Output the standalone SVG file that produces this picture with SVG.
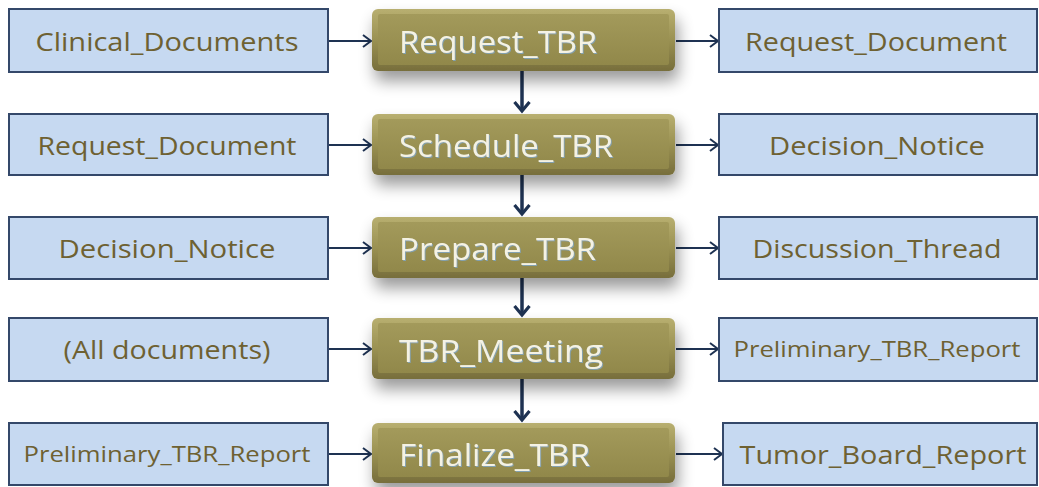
<svg xmlns="http://www.w3.org/2000/svg" width="1039" height="487" viewBox="0 0 1039 487">
  <defs>
    <style>
      .doc rect { fill: #C6D9F1; stroke: #34486A; stroke-width: 2; }
      .doc text { font-family: "Open Sans", "Liberation Sans", sans-serif; font-size: 26px; fill: #6E6132; text-anchor: middle; }
      .doc text.small { font-size: 21px; }
      .step text { font-family: "Open Sans", "Liberation Sans", sans-serif; font-size: 31px; fill: #F4F2E4; }
      .step .outer { fill: url(#stepEdge); filter: url(#shadow); }
      .step .inner { fill: url(#stepFace); }
      .flow { stroke: #1E3252; stroke-width: 2; fill: none; }
      .down { stroke: #1E3252; stroke-width: 3.5; fill: none; }
    </style>
    <linearGradient id="stepEdge" x1="0" y1="0" x2="0" y2="1">
      <stop offset="0" stop-color="#B8AF70"/>
      <stop offset="0.5" stop-color="#9A9152"/>
      <stop offset="1" stop-color="#776E3C"/>
    </linearGradient>
    <linearGradient id="stepFace" x1="0" y1="0" x2="0" y2="1">
      <stop offset="0" stop-color="#A39A5B"/>
      <stop offset="1" stop-color="#91884A"/>
    </linearGradient>
    <filter id="shadow" x="-10%" y="-25%" width="125%" height="190%">
      <feGaussianBlur in="SourceAlpha" stdDeviation="8"/>
      <feOffset dx="3" dy="10" result="blur"/>
      <feComponentTransfer><feFuncA type="linear" slope="0.4"/></feComponentTransfer>
      <feMerge><feMergeNode/><feMergeNode in="SourceGraphic"/></feMerge>
    </filter>
    <filter id="glow" x="-5%" y="-20%" width="110%" height="140%">
      <feOffset in="SourceAlpha" dx="0.8" dy="0.8" result="o"/>
      <feFlood flood-color="#7FA6C8" flood-opacity="0.8"/>
      <feComposite in2="o" operator="in"/>
      <feMerge><feMergeNode/><feMergeNode in="SourceGraphic"/></feMerge>
    </filter>
    <marker id="chevron" markerUnits="userSpaceOnUse" markerWidth="12" markerHeight="16" refX="9" refY="7" orient="auto">
      <path d="M1,1 L9,7 L1,13" fill="none" stroke="#1E3252" stroke-width="2"/>
    </marker>
    <marker id="chevronBold" markerUnits="userSpaceOnUse" markerWidth="14" markerHeight="20" refX="10" refY="9" orient="auto">
      <path d="M1,1.5 L10,9 L1,16.5" fill="none" stroke="#1E3252" stroke-width="3.2"/>
    </marker>
  </defs>

  <!-- connectors -->
  <g id="connectors">
    <line class="flow" x1="329" y1="41" x2="371" y2="41" marker-end="url(#chevron)"/>
    <line class="flow" x1="676" y1="41" x2="718" y2="41" marker-end="url(#chevron)"/>
    <line class="flow" x1="329" y1="145" x2="371" y2="145" marker-end="url(#chevron)"/>
    <line class="flow" x1="676" y1="145" x2="718" y2="145" marker-end="url(#chevron)"/>
    <line class="flow" x1="329" y1="248" x2="371" y2="248" marker-end="url(#chevron)"/>
    <line class="flow" x1="676" y1="248" x2="718" y2="248" marker-end="url(#chevron)"/>
    <line class="flow" x1="329" y1="349" x2="371" y2="349" marker-end="url(#chevron)"/>
    <line class="flow" x1="676" y1="349" x2="718" y2="349" marker-end="url(#chevron)"/>
    <line class="flow" x1="329" y1="454" x2="371" y2="454" marker-end="url(#chevron)"/>
    <line class="flow" x1="676" y1="454" x2="722" y2="454" marker-end="url(#chevron)"/>
    <line class="down" x1="522" y1="71" x2="522" y2="111" marker-end="url(#chevronBold)"/>
    <line class="down" x1="522" y1="175" x2="522" y2="214" marker-end="url(#chevronBold)"/>
    <line class="down" x1="522" y1="278" x2="522" y2="315" marker-end="url(#chevronBold)"/>
    <line class="down" x1="522" y1="379" x2="522" y2="420" marker-end="url(#chevronBold)"/>
  </g>

  <!-- input documents -->
  <g id="in-clinical" class="doc">
    <rect x="9" y="9" width="319" height="63"/>
    <text x="167" y="51" textLength="263" lengthAdjust="spacingAndGlyphs">Clinical_Documents</text>
  </g>
  <g id="in-request" class="doc">
    <rect x="9" y="114" width="319" height="61"/>
    <text x="167" y="155" textLength="259" lengthAdjust="spacingAndGlyphs">Request_Document</text>
  </g>
  <g id="in-decision" class="doc">
    <rect x="9" y="217" width="319" height="62"/>
    <text x="167" y="258" textLength="217" lengthAdjust="spacingAndGlyphs">Decision_Notice</text>
  </g>
  <g id="in-all" class="doc">
    <rect x="9" y="318" width="319" height="63"/>
    <text x="167" y="359" textLength="207" lengthAdjust="spacingAndGlyphs">(All documents)</text>
  </g>
  <g id="in-preliminary" class="doc">
    <rect x="9" y="423" width="319" height="62"/>
    <text class="small" x="167" y="462" textLength="287" lengthAdjust="spacingAndGlyphs">Preliminary_TBR_Report</text>
  </g>

  <!-- process steps -->
  <g id="step-request" class="step">
    <rect class="outer" x="372" y="9" width="303" height="62" rx="6"/>
    <rect class="inner" x="378" y="14" width="291" height="51" rx="2"/>
    <text x="399" y="53" textLength="198" lengthAdjust="spacingAndGlyphs" filter="url(#glow)">Request_TBR</text>
  </g>
  <g id="step-schedule" class="step">
    <rect class="outer" x="372" y="114" width="303" height="61" rx="6"/>
    <rect class="inner" x="378" y="119" width="291" height="50" rx="2"/>
    <text x="399" y="157" textLength="214" lengthAdjust="spacingAndGlyphs" filter="url(#glow)">Schedule_TBR</text>
  </g>
  <g id="step-prepare" class="step">
    <rect class="outer" x="372" y="217" width="303" height="61" rx="6"/>
    <rect class="inner" x="378" y="222" width="291" height="50" rx="2"/>
    <text x="399" y="260" textLength="197" lengthAdjust="spacingAndGlyphs" filter="url(#glow)">Prepare_TBR</text>
  </g>
  <g id="step-meeting" class="step">
    <rect class="outer" x="372" y="318" width="303" height="61" rx="6"/>
    <rect class="inner" x="378" y="323" width="291" height="50" rx="2"/>
    <text x="399" y="362" textLength="204" lengthAdjust="spacingAndGlyphs" filter="url(#glow)">TBR_Meeting</text>
  </g>
  <g id="step-finalize" class="step">
    <rect class="outer" x="372" y="423" width="303" height="60" rx="6"/>
    <rect class="inner" x="378" y="428" width="291" height="49" rx="2"/>
    <text x="399" y="466" textLength="191" lengthAdjust="spacingAndGlyphs" filter="url(#glow)">Finalize_TBR</text>
  </g>

  <!-- output documents -->
  <g id="out-request" class="doc">
    <rect x="719" y="9" width="318" height="63"/>
    <text x="876" y="51" textLength="262" lengthAdjust="spacingAndGlyphs">Request_Document</text>
  </g>
  <g id="out-decision" class="doc">
    <rect x="719" y="114" width="318" height="61"/>
    <text x="877" y="155" textLength="216" lengthAdjust="spacingAndGlyphs">Decision_Notice</text>
  </g>
  <g id="out-discussion" class="doc">
    <rect x="719" y="217" width="318" height="62"/>
    <text x="877" y="258" textLength="249" lengthAdjust="spacingAndGlyphs">Discussion_Thread</text>
  </g>
  <g id="out-preliminary" class="doc">
    <rect x="719" y="318" width="318" height="63"/>
    <text class="small" x="877" y="357" textLength="287" lengthAdjust="spacingAndGlyphs">Preliminary_TBR_Report</text>
  </g>
  <g id="out-tumor-board" class="doc">
    <rect x="723" y="423" width="314" height="62"/>
    <text x="883" y="464" textLength="287" lengthAdjust="spacingAndGlyphs">Tumor_Board_Report</text>
  </g>
</svg>
